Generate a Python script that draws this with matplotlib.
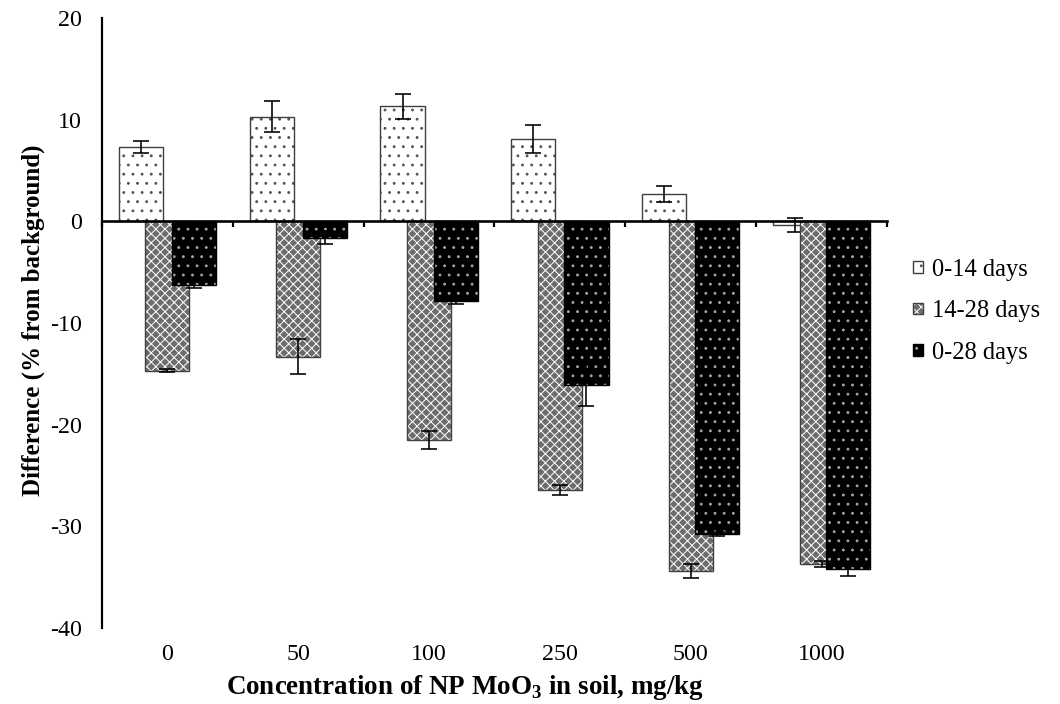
import numpy as np
import matplotlib
matplotlib.use('Agg')
import matplotlib.pyplot as plt
from matplotlib.legend_handler import HandlerTuple

# data
concentrations = ['0', '50', '100', '250', '500', '1000']
series_names = ['0-14 days', '14-28 days', '0-28 days']
diff_0_14 = [7.3, 10.3, 11.3, 8.1, 2.7, -0.4]
err_0_14 = [0.6, 1.5, 1.2, 1.4, 0.8, 0.7]
diff_14_28 = [-14.7, -13.3, -21.5, -26.4, -34.4, -33.7]
err_14_28 = [0.15, 1.7, 0.9, 0.5, 0.7, 0.3]
diff_0_28 = [-6.3, -1.6, -7.8, -16.1, -30.8, -34.2]
err_0_28 = [0.3, 0.6, 0.3, 2.1, 0.2, 0.7]

# low dpi so the hatch spacing (one hatch cell per inch) matches the Excel fill patterns
DPI = 55
PT = 72 / DPI  # points per pixel

plt.rcParams['font.family'] = ['Liberation Serif', 'DejaVu Serif']
plt.rcParams['mathtext.fontset'] = 'custom'
plt.rcParams['mathtext.rm'] = 'Liberation Serif'
plt.rcParams['mathtext.bf'] = 'Liberation Serif:bold'
plt.rcParams['axes.unicode_minus'] = False
plt.rcParams['hatch.linewidth'] = 1.0 * PT

# (face colour, hatch, hatch colour, outline colour)
styles = [
    ('white', '.', '#505050', '#404040'),
    ('#6c6c6c', 'xx', 'white', '#404040'),
    ('black', '.', '#a8a8a8', 'black'),
]
values = [diff_0_14, diff_14_28, diff_0_28]
errors = [err_0_14, err_14_28, err_0_28]

fig = plt.figure(figsize=(1060 / DPI, 704 / DPI), dpi=DPI)
ax = fig.add_axes([0.0962, 0.108, 0.7406, 0.8665])

x = np.arange(len(concentrations))
width = 0.337
step = 0.203

handles = []
for i, (vals, errs, (face, hatch, hcol, ecol)) in enumerate(zip(values, errors, styles)):
    pos = x + (i - 1) * step
    z = 2 + i
    fill = ax.bar(pos, vals, width, color=face, hatch=hatch, edgecolor=hcol,
                  linewidth=0, zorder=z)
    edge = ax.bar(pos, vals, width, fill=False, edgecolor=ecol,
                  linewidth=1.4 * PT, zorder=z + 0.1)
    ax.errorbar(pos, vals, yerr=errs, fmt='none', ecolor='black',
                elinewidth=1.6 * PT, capsize=8 * PT, capthick=1.6 * PT,
                zorder=z + 0.2)
    handles.append((fill.patches[0], edge.patches[0]))

ax.set_xlim(-0.5, 5.5)
ax.set_ylim(-40, 20)
ax.set_yticks([20, 10, 0, -10, -20, -30, -40])

for s in ['top', 'right']:
    ax.spines[s].set_visible(False)
ax.spines['left'].set_linewidth(2.2 * PT)
ax.spines['bottom'].set_position(('data', 0))
ax.spines['bottom'].set_linewidth(2.6 * PT)
ax.spines['bottom'].set_zorder(10)

# category boundary ticks on the zero line
ax.set_xticks(np.arange(-0.5, 6.0, 1.0))
ax.tick_params(axis='x', length=6 * PT, width=2.2 * PT, direction='out',
               labelbottom=False)
ax.tick_params(axis='y', length=0, pad=20 * PT, labelsize=24 * PT)

sec = ax.secondary_xaxis('bottom')
sec.set_xticks(x, concentrations)
sec.tick_params(length=0, pad=16 * PT, labelsize=24 * PT)
sec.spines['bottom'].set_visible(False)

ax.set_ylabel('Difference (% from background)', fontsize=25 * PT,
              fontweight='bold')
ax.yaxis.set_label_coords(-0.072, 0.505)
fig.text(465 / 1060, 1 - 688 / 704,
         r'Concentration of NP MoO$_\mathbf{3}$ in soil, mg/kg',
         fontsize=27 * PT, fontweight='bold', ha='center', va='center')

fig.legend(handles, series_names, loc='center left',
           bbox_to_anchor=(0.861, 0.558), frameon=False, fontsize=24.5 * PT,
           handlelength=0.42, handleheight=0.36, handletextpad=0.36,
           labelspacing=0.8, borderpad=0, borderaxespad=0,
           handler_map={tuple: HandlerTuple(ndivide=1, pad=0)})

fig.savefig('out.png', dpi=DPI)
